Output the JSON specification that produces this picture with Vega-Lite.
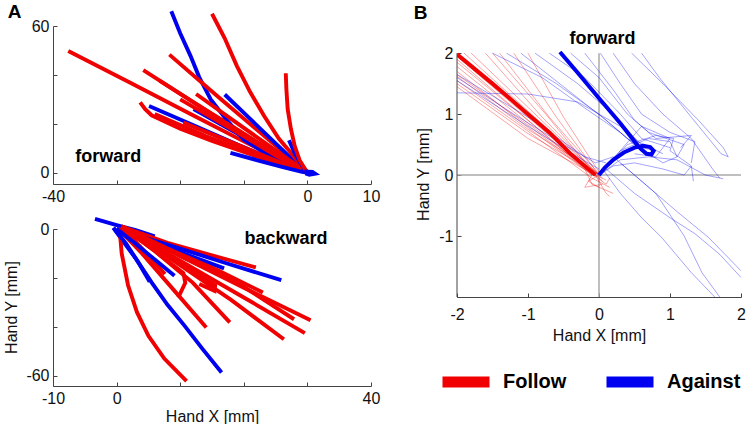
{
  "$schema": "https://vega.github.io/schema/vega-lite/v6.json",
  "background": "white",
  "padding": {"left": 3, "top": 3, "right": 0, "bottom": 0},
  "config": {
    "view": {"stroke": null},
    "font": "Liberation Sans",
    "axis": {
      "grid": false,
      "domainColor": "#444",
      "tickColor": "#444",
      "tickSize": -4,
      "labelPadding": 8,
      "labelFlush": false,
      "labelFontSize": 16,
      "labelColor": "#111",
      "titleFontSize": 16,
      "titleFontWeight": "normal",
      "titleColor": "#111",
      "titlePadding": 6,
      "labelExpr": "'' + datum.value"
    }
  },
  "datasets": {
    "fw": [
      {"id":"fR1","c":"Follow","o":1,"x":-37.6,"y":49.8},{"id":"fR1","c":"Follow","o":2,"x":-28,"y":37},{"id":"fR1","c":"Follow","o":3,"x":-18,"y":23.5},{"id":"fR1","c":"Follow","o":4,"x":-9,"y":11.5},{"id":"fR1","c":"Follow","o":5,"x":-3,"y":3.5},{"id":"fR1","c":"Follow","o":6,"x":0,"y":0},
      {"id":"fB3","c":"Against","o":1,"x":-24.9,"y":27.3},{"id":"fB3","c":"Against","o":2,"x":-18,"y":19.5},{"id":"fB3","c":"Against","o":3,"x":-11,"y":11.5},{"id":"fB3","c":"Against","o":4,"x":-5,"y":5},{"id":"fB3","c":"Against","o":5,"x":0,"y":0},
      {"id":"fR2","c":"Follow","o":1,"x":-25.8,"y":42},{"id":"fR2","c":"Follow","o":2,"x":-18,"y":29},{"id":"fR2","c":"Follow","o":3,"x":-10,"y":16},{"id":"fR2","c":"Follow","o":4,"x":-4,"y":6},{"id":"fR2","c":"Follow","o":5,"x":0,"y":0},
      {"id":"fR7","c":"Follow","o":1,"x":-26.3,"y":28.8},{"id":"fR7","c":"Follow","o":2,"x":-25.5,"y":26},{"id":"fR7","c":"Follow","o":3,"x":-24.5,"y":23.5},{"id":"fR7","c":"Follow","o":4,"x":-20,"y":18},{"id":"fR7","c":"Follow","o":5,"x":-15,"y":13},{"id":"fR7","c":"Follow","o":6,"x":-10,"y":8.5},{"id":"fR7","c":"Follow","o":7,"x":-5,"y":4},{"id":"fR7","c":"Follow","o":8,"x":0,"y":0},
      {"id":"fB1","c":"Against","o":1,"x":-21.4,"y":66},{"id":"fB1","c":"Against","o":2,"x":-20,"y":57},{"id":"fB1","c":"Against","o":3,"x":-18.4,"y":47.9},{"id":"fB1","c":"Against","o":4,"x":-17,"y":39},{"id":"fB1","c":"Against","o":5,"x":-15.2,"y":30},{"id":"fB1","c":"Against","o":6,"x":-12.5,"y":21},{"id":"fB1","c":"Against","o":7,"x":-10,"y":13.6},{"id":"fB1","c":"Against","o":8,"x":-6,"y":7},{"id":"fB1","c":"Against","o":9,"x":-3.1,"y":3.3},{"id":"fB1","c":"Against","o":10,"x":0,"y":0},
      {"id":"fR3","c":"Follow","o":1,"x":-21.7,"y":48.3},{"id":"fR3","c":"Follow","o":2,"x":-14,"y":31},{"id":"fR3","c":"Follow","o":3,"x":-7,"y":15.5},{"id":"fR3","c":"Follow","o":4,"x":-2,"y":4.5},{"id":"fR3","c":"Follow","o":5,"x":0,"y":0},
      {"id":"fB6","c":"Against","o":1,"x":-17.9,"y":26},{"id":"fB6","c":"Against","o":2,"x":-11,"y":16},{"id":"fB6","c":"Against","o":3,"x":-5,"y":7},{"id":"fB6","c":"Against","o":4,"x":0,"y":0},
      {"id":"fR8","c":"Follow","o":1,"x":-23.2,"y":37.6},{"id":"fR8","c":"Follow","o":2,"x":-15,"y":24},{"id":"fR8","c":"Follow","o":3,"x":-7,"y":11},{"id":"fR8","c":"Follow","o":4,"x":0,"y":0},
      {"id":"fR9","c":"Follow","o":1,"x":-20,"y":30},{"id":"fR9","c":"Follow","o":2,"x":-12,"y":18},{"id":"fR9","c":"Follow","o":3,"x":-5,"y":7},{"id":"fR9","c":"Follow","o":4,"x":0,"y":0},
      {"id":"fR10","c":"Follow","o":1,"x":-24,"y":24},{"id":"fR10","c":"Follow","o":2,"x":-16,"y":15},{"id":"fR10","c":"Follow","o":3,"x":-8,"y":7},{"id":"fR10","c":"Follow","o":4,"x":0,"y":0},
      {"id":"fR11","c":"Follow","o":1,"x":-19.5,"y":20.5},{"id":"fR11","c":"Follow","o":2,"x":-12,"y":12.5},{"id":"fR11","c":"Follow","o":3,"x":-5,"y":5},{"id":"fR11","c":"Follow","o":4,"x":0,"y":0},
      {"id":"fB2","c":"Against","o":1,"x":-13,"y":32},{"id":"fB2","c":"Against","o":2,"x":-9,"y":22},{"id":"fB2","c":"Against","o":3,"x":-5,"y":12},{"id":"fB2","c":"Against","o":4,"x":-2,"y":4.5},{"id":"fB2","c":"Against","o":5,"x":0,"y":0},
      {"id":"fR6","c":"Follow","o":1,"x":-17.5,"y":32.2},{"id":"fR6","c":"Follow","o":2,"x":-12,"y":22},{"id":"fR6","c":"Follow","o":3,"x":-6,"y":11},{"id":"fR6","c":"Follow","o":4,"x":0,"y":0},
      {"id":"fR4","c":"Follow","o":1,"x":-15,"y":65},{"id":"fR4","c":"Follow","o":2,"x":-13,"y":55},{"id":"fR4","c":"Follow","o":3,"x":-11.1,"y":43.7},{"id":"fR4","c":"Follow","o":4,"x":-9,"y":33},{"id":"fR4","c":"Follow","o":5,"x":-6.8,"y":23.2},{"id":"fR4","c":"Follow","o":6,"x":-4.5,"y":14},{"id":"fR4","c":"Follow","o":7,"x":-2.6,"y":8.2},{"id":"fR4","c":"Follow","o":8,"x":-1,"y":3},{"id":"fR4","c":"Follow","o":9,"x":0,"y":0},
      {"id":"fB4","c":"Against","o":1,"x":-12.1,"y":8.1},{"id":"fB4","c":"Against","o":2,"x":-8,"y":5.2},{"id":"fB4","c":"Against","o":3,"x":-4,"y":2.4},{"id":"fB4","c":"Against","o":4,"x":-1,"y":0.5},{"id":"fB4","c":"Against","o":5,"x":0,"y":0},
      {"id":"fB5","c":"Against","o":1,"x":-2.9,"y":13.3},{"id":"fB5","c":"Against","o":2,"x":-2,"y":8},{"id":"fB5","c":"Against","o":3,"x":-1,"y":3.5},{"id":"fB5","c":"Against","o":4,"x":0,"y":0},
      {"id":"fR5","c":"Follow","o":1,"x":-3.4,"y":40.7},{"id":"fR5","c":"Follow","o":2,"x":-3.3,"y":34},{"id":"fR5","c":"Follow","o":3,"x":-3.1,"y":26},{"id":"fR5","c":"Follow","o":4,"x":-2.6,"y":18},{"id":"fR5","c":"Follow","o":5,"x":-2,"y":11},{"id":"fR5","c":"Follow","o":6,"x":-1.2,"y":5},{"id":"fR5","c":"Follow","o":7,"x":0,"y":0},
      {"id":"fB7","c":"Against","o":1,"x":-0.5,"y":0.5},{"id":"fB7","c":"Against","o":2,"x":0.8,"y":0.3},{"id":"fB7","c":"Against","o":3,"x":1.2,"y":-0.4},{"id":"fB7","c":"Against","o":4,"x":0.3,"y":-0.8},{"id":"fB7","c":"Against","o":5,"x":-0.3,"y":-0.3}
    ],
    "bw": [
      {"id":"bB1","c":"Against","o":1,"x":-3.4,"y":4.1},{"id":"bB1","c":"Against","o":2,"x":0,"y":1.6},{"id":"bB1","c":"Against","o":3,"x":3,"y":-0.5},{"id":"bB1","c":"Against","o":4,"x":6,"y":-3},
      {"id":"bR1","c":"Follow","o":1,"x":0.8,"y":1},{"id":"bR1","c":"Follow","o":2,"x":8,"y":-5.7},{"id":"bR1","c":"Follow","o":3,"x":15,"y":-10.8},{"id":"bR1","c":"Follow","o":4,"x":21.9,"y":-15.7},
      {"id":"bB2","c":"Against","o":1,"x":0,"y":0},{"id":"bB2","c":"Against","o":2,"x":9,"y":-7.2},{"id":"bB2","c":"Against","o":3,"x":17,"y":-13.8},{"id":"bB2","c":"Against","o":4,"x":25.9,"y":-20.9},
      {"id":"bB3","c":"Against","o":1,"x":0,"y":0},{"id":"bB3","c":"Against","o":2,"x":6,"y":-5.7},{"id":"bB3","c":"Against","o":3,"x":12,"y":-11.4},{"id":"bB3","c":"Against","o":4,"x":16.9,"y":-16.1},
      {"id":"bR2","c":"Follow","o":1,"x":0.8,"y":1},{"id":"bR2","c":"Follow","o":2,"x":10,"y":-11},{"id":"bR2","c":"Follow","o":3,"x":20,"y":-24},{"id":"bR2","c":"Follow","o":4,"x":30.5,"y":-37.3},
      {"id":"bR3","c":"Follow","o":1,"x":0.8,"y":1},{"id":"bR3","c":"Follow","o":2,"x":10,"y":-13},{"id":"bR3","c":"Follow","o":3,"x":20,"y":-28},{"id":"bR3","c":"Follow","o":4,"x":29.6,"y":-42.6},
      {"id":"bR4","c":"Follow","o":1,"x":0.8,"y":1},{"id":"bR4","c":"Follow","o":2,"x":9,"y":-13},{"id":"bR4","c":"Follow","o":3,"x":18,"y":-29},{"id":"bR4","c":"Follow","o":4,"x":26.3,"y":-45.1},
      {"id":"bR5","c":"Follow","o":1,"x":0.8,"y":1},{"id":"bR5","c":"Follow","o":2,"x":10,"y":-11},{"id":"bR5","c":"Follow","o":3,"x":19,"y":-22},{"id":"bR5","c":"Follow","o":4,"x":27.9,"y":-36.9},
      {"id":"bR6","c":"Follow","o":1,"x":0.8,"y":1},{"id":"bR6","c":"Follow","o":2,"x":8,"y":-8},{"id":"bR6","c":"Follow","o":3,"x":16,"y":-17},{"id":"bR6","c":"Follow","o":4,"x":23,"y":-26},
      {"id":"bB4","c":"Against","o":1,"x":-0.5,"y":0.5},{"id":"bB4","c":"Against","o":2,"x":1,"y":-5},{"id":"bB4","c":"Against","o":3,"x":3,"y":-12},{"id":"bB4","c":"Against","o":4,"x":5.5,"y":-21.8},{"id":"bB4","c":"Against","o":5,"x":8,"y":-31},{"id":"bB4","c":"Against","o":6,"x":10.7,"y":-39.6},{"id":"bB4","c":"Against","o":7,"x":13.5,"y":-49},{"id":"bB4","c":"Against","o":8,"x":16.5,"y":-58.7},
      {"id":"bR7","c":"Follow","o":1,"x":0.8,"y":1},{"id":"bR7","c":"Follow","o":2,"x":6,"y":-9},{"id":"bR7","c":"Follow","o":3,"x":12,"y":-22},{"id":"bR7","c":"Follow","o":4,"x":17.8,"y":-38.2},
      {"id":"bR8","c":"Follow","o":1,"x":0.3,"y":0},{"id":"bR8","c":"Follow","o":2,"x":4,"y":-10},{"id":"bR8","c":"Follow","o":3,"x":9,"y":-25},{"id":"bR8","c":"Follow","o":4,"x":14.1,"y":-40.3},
      {"id":"bR9","c":"Follow","o":1,"x":0.5,"y":-1},{"id":"bR9","c":"Follow","o":2,"x":0.8,"y":-10},{"id":"bR9","c":"Follow","o":3,"x":1.8,"y":-23},{"id":"bR9","c":"Follow","o":4,"x":3.2,"y":-34},{"id":"bR9","c":"Follow","o":5,"x":5,"y":-43.7},{"id":"bR9","c":"Follow","o":6,"x":7.5,"y":-53},{"id":"bR9","c":"Follow","o":7,"x":11,"y":-62.2},
      {"id":"bR10","c":"Follow","o":1,"x":0.8,"y":1},{"id":"bR10","c":"Follow","o":2,"x":6,"y":-9},{"id":"bR10","c":"Follow","o":3,"x":10.5,"y":-18},{"id":"bR10","c":"Follow","o":4,"x":10.8,"y":-22},{"id":"bR10","c":"Follow","o":5,"x":9.7,"y":-28},
      {"id":"bR11","c":"Follow","o":1,"x":0.8,"y":1},{"id":"bR11","c":"Follow","o":2,"x":8,"y":-11},{"id":"bR11","c":"Follow","o":3,"x":13,"y":-19},{"id":"bR11","c":"Follow","o":4,"x":15.5,"y":-23},{"id":"bR11","c":"Follow","o":5,"x":15.4,"y":-25.3},{"id":"bR11","c":"Follow","o":6,"x":13,"y":-22.5},
      {"id":"bR12","c":"Follow","o":1,"x":0.8,"y":1},{"id":"bR12","c":"Follow","o":2,"x":4,"y":-8},{"id":"bR12","c":"Follow","o":3,"x":7.6,"y":-18.4},
      {"id":"bB5","c":"Against","o":1,"x":-0.5,"y":0.5},{"id":"bB5","c":"Against","o":2,"x":1.5,"y":-6},{"id":"bB5","c":"Against","o":3,"x":3.5,"y":-14},{"id":"bB5","c":"Against","o":4,"x":5.2,"y":-21.6},
      {"id":"bB6","c":"Against","o":1,"x":0,"y":0},{"id":"bB6","c":"Against","o":2,"x":3,"y":-6},{"id":"bB6","c":"Against","o":3,"x":6,"y":-12.5},{"id":"bB6","c":"Against","o":4,"x":9.1,"y":-19.1}
    ],
    "thin": [
      {"id":"r1","c":"Follow","o":1,"x":-2,"y":1.95},{"id":"r1","c":"Follow","o":2,"x":-1,"y":0.95},{"id":"r1","c":"Follow","o":3,"x":-0.1,"y":0.05},{"id":"r1","c":"Follow","o":4,"x":0.05,"y":-0.1},
      {"id":"r2","c":"Follow","o":1,"x":-2,"y":1.85},{"id":"r2","c":"Follow","o":2,"x":-1,"y":0.9},{"id":"r2","c":"Follow","o":3,"x":-0.1,"y":0.02},{"id":"r2","c":"Follow","o":4,"x":0.1,"y":-0.15},{"id":"r2","c":"Follow","o":5,"x":0.15,"y":-0.05},
      {"id":"r3","c":"Follow","o":1,"x":-2,"y":1.78},{"id":"r3","c":"Follow","o":2,"x":-1,"y":0.85},{"id":"r3","c":"Follow","o":3,"x":-0.05,"y":0},
      {"id":"r4","c":"Follow","o":1,"x":-2,"y":1.7},{"id":"r4","c":"Follow","o":2,"x":-1,"y":0.78},{"id":"r4","c":"Follow","o":3,"x":-0.1,"y":0},{"id":"r4","c":"Follow","o":4,"x":-0.2,"y":-0.2},{"id":"r4","c":"Follow","o":5,"x":0.05,"y":-0.15},
      {"id":"r5","c":"Follow","o":1,"x":-2,"y":1.62},{"id":"r5","c":"Follow","o":2,"x":-1,"y":0.75},{"id":"r5","c":"Follow","o":3,"x":0,"y":0.02},
      {"id":"r6","c":"Follow","o":1,"x":-2,"y":1.55},{"id":"r6","c":"Follow","o":2,"x":-1,"y":0.72},{"id":"r6","c":"Follow","o":3,"x":-0.1,"y":-0.05},{"id":"r6","c":"Follow","o":4,"x":0.15,"y":-0.2},
      {"id":"r7","c":"Follow","o":1,"x":-2,"y":1.5},{"id":"r7","c":"Follow","o":2,"x":-1,"y":0.68},{"id":"r7","c":"Follow","o":3,"x":0,"y":0},
      {"id":"r8","c":"Follow","o":1,"x":-2,"y":1.45},{"id":"r8","c":"Follow","o":2,"x":-1,"y":0.6},{"id":"r8","c":"Follow","o":3,"x":-0.05,"y":0},{"id":"r8","c":"Follow","o":4,"x":0.1,"y":-0.08},
      {"id":"r9","c":"Follow","o":1,"x":-1.9,"y":2},{"id":"r9","c":"Follow","o":2,"x":-1,"y":1.05},{"id":"r9","c":"Follow","o":3,"x":0,"y":0},
      {"id":"r10","c":"Follow","o":1,"x":-1.8,"y":2},{"id":"r10","c":"Follow","o":2,"x":-0.9,"y":1},{"id":"r10","c":"Follow","o":3,"x":-0.05,"y":0.05},{"id":"r10","c":"Follow","o":4,"x":0.05,"y":-0.05},
      {"id":"r11","c":"Follow","o":1,"x":-1.6,"y":2},{"id":"r11","c":"Follow","o":2,"x":-0.8,"y":0.95},{"id":"r11","c":"Follow","o":3,"x":0,"y":0},
      {"id":"r12","c":"Follow","o":1,"x":-1.4,"y":2},{"id":"r12","c":"Follow","o":2,"x":-0.7,"y":0.95},{"id":"r12","c":"Follow","o":3,"x":0,"y":0.02},
      {"id":"r13","c":"Follow","o":1,"x":-1.2,"y":2},{"id":"r13","c":"Follow","o":2,"x":-0.6,"y":0.95},{"id":"r13","c":"Follow","o":3,"x":0,"y":0},{"id":"r13","c":"Follow","o":4,"x":-0.15,"y":-0.1},{"id":"r13","c":"Follow","o":5,"x":0,"y":-0.2},
      {"id":"r14","c":"Follow","o":1,"x":-1,"y":2},{"id":"r14","c":"Follow","o":2,"x":-0.5,"y":0.95},{"id":"r14","c":"Follow","o":3,"x":0,"y":0.05},
      {"id":"r15","c":"Follow","o":1,"x":-1.5,"y":2},{"id":"r15","c":"Follow","o":2,"x":-0.75,"y":1},{"id":"r15","c":"Follow","o":3,"x":-0.05,"y":0},{"id":"r15","c":"Follow","o":4,"x":0.1,"y":-0.3},{"id":"r15","c":"Follow","o":5,"x":0.15,"y":-0.35},
      {"id":"r16","c":"Follow","o":1,"x":-2,"y":1.9},{"id":"r16","c":"Follow","o":2,"x":-1.05,"y":0.95},{"id":"r16","c":"Follow","o":3,"x":-0.1,"y":0},
      {"id":"r17","c":"Follow","o":1,"x":-2,"y":1.65},{"id":"r17","c":"Follow","o":2,"x":-1,"y":0.82},{"id":"r17","c":"Follow","o":3,"x":-0.2,"y":0.1},{"id":"r17","c":"Follow","o":4,"x":-0.1,"y":-0.15},{"id":"r17","c":"Follow","o":5,"x":0.2,"y":-0.3},
      {"id":"b1","c":"Against","o":1,"x":-1.3,"y":2},{"id":"b1","c":"Against","o":2,"x":-0.6,"y":1.5},{"id":"b1","c":"Against","o":3,"x":0,"y":1},{"id":"b1","c":"Against","o":4,"x":0.4,"y":0.6},{"id":"b1","c":"Against","o":5,"x":0.6,"y":0.45},{"id":"b1","c":"Against","o":6,"x":0.8,"y":0.4},
      {"id":"b2","c":"Against","o":1,"x":-1.1,"y":2},{"id":"b2","c":"Against","o":2,"x":-0.5,"y":1.45},{"id":"b2","c":"Against","o":3,"x":0.1,"y":0.9},{"id":"b2","c":"Against","o":4,"x":0.5,"y":0.5},{"id":"b2","c":"Against","o":5,"x":0.75,"y":0.3},
      {"id":"b3","c":"Against","o":1,"x":-0.9,"y":2},{"id":"b3","c":"Against","o":2,"x":-0.3,"y":1.5},{"id":"b3","c":"Against","o":3,"x":0.2,"y":1},{"id":"b3","c":"Against","o":4,"x":0.55,"y":0.55},{"id":"b3","c":"Against","o":5,"x":0.9,"y":0.35},
      {"id":"b4","c":"Against","o":1,"x":-0.7,"y":2},{"id":"b4","c":"Against","o":2,"x":-0.2,"y":1.6},{"id":"b4","c":"Against","o":3,"x":0.3,"y":1},{"id":"b4","c":"Against","o":4,"x":0.6,"y":0.6},{"id":"b4","c":"Against","o":5,"x":1,"y":0.45},
      {"id":"b5","c":"Against","o":1,"x":-2,"y":1.35},{"id":"b5","c":"Against","o":2,"x":-1,"y":1.33},{"id":"b5","c":"Against","o":3,"x":-0.3,"y":1.2},{"id":"b5","c":"Against","o":4,"x":0.3,"y":0.8},{"id":"b5","c":"Against","o":5,"x":0.6,"y":0.5},
      {"id":"b6","c":"Against","o":1,"x":-2,"y":1.6},{"id":"b6","c":"Against","o":2,"x":-1.2,"y":1},{"id":"b6","c":"Against","o":3,"x":-0.5,"y":0.5},{"id":"b6","c":"Against","o":4,"x":-0.05,"y":0.2},{"id":"b6","c":"Against","o":5,"x":0.2,"y":0.3},
      {"id":"b7","c":"Against","o":1,"x":-2,"y":1.65},{"id":"b7","c":"Against","o":2,"x":-1,"y":0.95},{"id":"b7","c":"Against","o":3,"x":-0.2,"y":0.3},{"id":"b7","c":"Against","o":4,"x":0.1,"y":0.2},
      {"id":"b8","c":"Against","o":1,"x":-0.4,"y":2},{"id":"b8","c":"Against","o":2,"x":0,"y":1.6},{"id":"b8","c":"Against","o":3,"x":0.4,"y":1},{"id":"b8","c":"Against","o":4,"x":0.7,"y":0.7},{"id":"b8","c":"Against","o":5,"x":1.2,"y":0.5},{"id":"b8","c":"Against","o":6,"x":1.1,"y":0.3},
      {"id":"b9","c":"Against","o":1,"x":-0.2,"y":2},{"id":"b9","c":"Against","o":2,"x":0.2,"y":1.4},{"id":"b9","c":"Against","o":3,"x":0.5,"y":0.9},{"id":"b9","c":"Against","o":4,"x":0.8,"y":0.6},{"id":"b9","c":"Against","o":5,"x":1.3,"y":0.65},{"id":"b9","c":"Against","o":6,"x":1.15,"y":0.45},
      {"id":"b10","c":"Against","o":1,"x":0.02,"y":2},{"id":"b10","c":"Against","o":2,"x":0.3,"y":1.5},{"id":"b10","c":"Against","o":3,"x":0.6,"y":1},{"id":"b10","c":"Against","o":4,"x":1,"y":0.7},{"id":"b10","c":"Against","o":5,"x":1.35,"y":0.55},{"id":"b10","c":"Against","o":6,"x":1.3,"y":0.2},
      {"id":"b11","c":"Against","o":1,"x":0.2,"y":2},{"id":"b11","c":"Against","o":2,"x":0.5,"y":1.5},{"id":"b11","c":"Against","o":3,"x":0.9,"y":1},{"id":"b11","c":"Against","o":4,"x":1.3,"y":0.6},{"id":"b11","c":"Against","o":5,"x":1.6,"y":0.1},{"id":"b11","c":"Against","o":6,"x":1.7,"y":-0.05},
      {"id":"b12","c":"Against","o":1,"x":0.46,"y":2},{"id":"b12","c":"Against","o":2,"x":0.9,"y":1.5},{"id":"b12","c":"Against","o":3,"x":1.4,"y":0.9},{"id":"b12","c":"Against","o":4,"x":1.75,"y":0.45},{"id":"b12","c":"Against","o":5,"x":1.82,"y":0.3},{"id":"b12","c":"Against","o":6,"x":1.72,"y":0.35},{"id":"b12","c":"Against","o":7,"x":1.3,"y":0.95},{"id":"b12","c":"Against","o":8,"x":0.85,"y":1.6},{"id":"b12","c":"Against","o":9,"x":0.6,"y":2},
      {"id":"b13","c":"Against","o":1,"x":0,"y":0},{"id":"b13","c":"Against","o":2,"x":0.3,"y":0.4},{"id":"b13","c":"Against","o":3,"x":0.7,"y":0.6},{"id":"b13","c":"Against","o":4,"x":1,"y":0.55},{"id":"b13","c":"Against","o":5,"x":1.1,"y":0.3},{"id":"b13","c":"Against","o":6,"x":0.9,"y":0.2},{"id":"b13","c":"Against","o":7,"x":0.7,"y":0.35},
      {"id":"b14","c":"Against","o":1,"x":0,"y":0},{"id":"b14","c":"Against","o":2,"x":0.4,"y":0.5},{"id":"b14","c":"Against","o":3,"x":0.8,"y":0.65},{"id":"b14","c":"Against","o":4,"x":1.05,"y":0.6},{"id":"b14","c":"Against","o":5,"x":1,"y":0.4},{"id":"b14","c":"Against","o":6,"x":1.3,"y":0.15},{"id":"b14","c":"Against","o":7,"x":1.33,"y":-0.1},
      {"id":"b15","c":"Against","o":1,"x":0,"y":0},{"id":"b15","c":"Against","o":2,"x":0.3,"y":0.25},{"id":"b15","c":"Against","o":3,"x":0.7,"y":0.3},{"id":"b15","c":"Against","o":4,"x":1.1,"y":0.25},{"id":"b15","c":"Against","o":5,"x":1.5,"y":0},{"id":"b15","c":"Against","o":6,"x":1.75,"y":-0.06},
      {"id":"b16","c":"Against","o":1,"x":0.05,"y":0.1},{"id":"b16","c":"Against","o":2,"x":0.3,"y":-0.3},{"id":"b16","c":"Against","o":3,"x":0.6,"y":-0.7},{"id":"b16","c":"Against","o":4,"x":0.88,"y":-1.02},{"id":"b16","c":"Against","o":5,"x":1.3,"y":-1.6},{"id":"b16","c":"Against","o":6,"x":1.63,"y":-2},
      {"id":"b17","c":"Against","o":1,"x":0.1,"y":0.1},{"id":"b17","c":"Against","o":2,"x":0.5,"y":-0.3},{"id":"b17","c":"Against","o":3,"x":1,"y":-0.7},{"id":"b17","c":"Against","o":4,"x":1.35,"y":-0.96},{"id":"b17","c":"Against","o":5,"x":1.7,"y":-1.3},{"id":"b17","c":"Against","o":6,"x":2,"y":-1.68},
      {"id":"b18","c":"Against","o":1,"x":0.2,"y":0.3},{"id":"b18","c":"Against","o":2,"x":0.7,"y":-0.2},{"id":"b18","c":"Against","o":3,"x":1.1,"y":-0.6},{"id":"b18","c":"Against","o":4,"x":1.54,"y":-1.02},{"id":"b18","c":"Against","o":5,"x":2,"y":-1.57},
      {"id":"b19","c":"Against","o":1,"x":0.3,"y":0.2},{"id":"b19","c":"Against","o":2,"x":0.8,"y":-0.3},{"id":"b19","c":"Against","o":3,"x":1.2,"y":-1},{"id":"b19","c":"Against","o":4,"x":1.45,"y":-1.6},{"id":"b19","c":"Against","o":5,"x":1.7,"y":-2},
      {"id":"b20","c":"Against","o":1,"x":0,"y":0},{"id":"b20","c":"Against","o":2,"x":0.3,"y":0.4},{"id":"b20","c":"Against","o":3,"x":0.6,"y":0.8},{"id":"b20","c":"Against","o":4,"x":1,"y":0.6},{"id":"b20","c":"Against","o":5,"x":0.8,"y":0.3},{"id":"b20","c":"Against","o":6,"x":0.5,"y":0.35},
      {"id":"b21","c":"Against","o":1,"x":-1.5,"y":2},{"id":"b21","c":"Against","o":2,"x":-0.8,"y":1.6},{"id":"b21","c":"Against","o":3,"x":-0.2,"y":1.1},{"id":"b21","c":"Against","o":4,"x":0.3,"y":0.7},{"id":"b21","c":"Against","o":5,"x":0.5,"y":0.5},
      {"id":"b22","c":"Against","o":1,"x":-2,"y":1.55},{"id":"b22","c":"Against","o":2,"x":-1,"y":0.8},{"id":"b22","c":"Against","o":3,"x":-0.3,"y":0.3},{"id":"b22","c":"Against","o":4,"x":0,"y":0.1},
      {"id":"b23","c":"Against","o":1,"x":0,"y":0},{"id":"b23","c":"Against","o":2,"x":0.2,"y":0.15},{"id":"b23","c":"Against","o":3,"x":0.5,"y":0.2},{"id":"b23","c":"Against","o":4,"x":0.9,"y":0.1},{"id":"b23","c":"Against","o":5,"x":1.2,"y":0},{"id":"b23","c":"Against","o":6,"x":1.3,"y":0.15}
    ],
    "thick": [
      {"id":"mR","c":"Follow","o":1,"x":-2,"y":1.98},{"id":"mR","c":"Follow","o":2,"x":-1.5,"y":1.5},{"id":"mR","c":"Follow","o":3,"x":-1.02,"y":1.02},{"id":"mR","c":"Follow","o":4,"x":-0.7,"y":0.7},{"id":"mR","c":"Follow","o":5,"x":-0.41,"y":0.36},{"id":"mR","c":"Follow","o":6,"x":-0.2,"y":0.15},{"id":"mR","c":"Follow","o":7,"x":-0.05,"y":0},
      {"id":"mB","c":"Against","o":1,"x":0,"y":0},{"id":"mB","c":"Against","o":2,"x":0.08,"y":0.12},{"id":"mB","c":"Against","o":3,"x":0.2,"y":0.25},{"id":"mB","c":"Against","o":4,"x":0.35,"y":0.37},{"id":"mB","c":"Against","o":5,"x":0.5,"y":0.45},{"id":"mB","c":"Against","o":6,"x":0.62,"y":0.48},{"id":"mB","c":"Against","o":7,"x":0.72,"y":0.46},{"id":"mB","c":"Against","o":8,"x":0.77,"y":0.4},{"id":"mB","c":"Against","o":9,"x":0.74,"y":0.34},{"id":"mB","c":"Against","o":10,"x":0.67,"y":0.35},{"id":"mB","c":"Against","o":11,"x":0.6,"y":0.42},{"id":"mB","c":"Against","o":12,"x":0.55,"y":0.48},{"id":"mB","c":"Against","o":13,"x":0.3,"y":0.85},{"id":"mB","c":"Against","o":14,"x":0,"y":1.26},{"id":"mB","c":"Against","o":15,"x":-0.3,"y":1.68},{"id":"mB","c":"Against","o":16,"x":-0.55,"y":2.02}
    ]
  },
  "bounds": "full",
  "spacing": 33,
  "resolve": {"scale": {"color": "independent"}},
  "hconcat": [
    {
      "bounds": "flush",
      "spacing": 45,
      "resolve": {"scale": {"color": "independent"}},
      "vconcat": [
        {
          "width": 318,
          "height": 158,
          "layer": [
            {
              "data": {"name": "fw"},
              "mark": {"type": "line", "strokeWidth": 3.9, "clip": false},
              "encoding": {
                "x": {"field": "x", "type": "quantitative", "scale": {"domain": [-40, 10], "nice": false, "zero": false},
                      "axis": {"title": null, "values": [-40, -30, -20, -10, 0, 10], "labelExpr": "datum.value == -40 || datum.value == 0 || datum.value == 10 ? '' + datum.value : ''"}},
                "y": {"field": "y", "type": "quantitative", "scale": {"domain": [-4.6, 60], "nice": false, "zero": false},
                      "axis": {"title": null, "values": [0, 20, 40, 60], "labelExpr": "datum.value == 0 || datum.value == 60 ? '' + datum.value : ''"}},
                "color": {"field": "c", "type": "nominal", "scale": {"domain": ["Follow", "Against"], "range": ["#f00000", "#0000f0"]}, "legend": null},
                "detail": {"field": "id"},
                "order": {"field": "o", "type": "quantitative"}
              }
            },
            {
              "data": {"values": [{}]},
              "mark": {"type": "text", "text": "forward", "fontSize": 18, "fontWeight": "bold", "align": "left", "baseline": "alphabetic", "color": "black"},
              "encoding": {"x": {"datum": -36.5}, "y": {"datum": 4.5}}
            },
            {
              "data": {"values": [{}]},
              "mark": {"type": "text", "text": "A", "fontSize": 19, "fontWeight": "bold", "align": "left", "baseline": "alphabetic", "color": "black"},
              "encoding": {"x": {"datum": -47.1}, "y": {"datum": 63.2}}
            }
          ]
        },
        {
          "width": 318,
          "height": 157,
          "layer": [
            {
              "data": {"name": "bw"},
              "mark": {"type": "line", "strokeWidth": 3.9, "clip": false},
              "encoding": {
                "x": {"field": "x", "type": "quantitative", "scale": {"domain": [-10, 40], "nice": false, "zero": false},
                      "axis": {"title": "Hand X [mm]", "titlePadding": 2, "values": [-10, 0, 10, 20, 30, 40], "labelExpr": "datum.value == -10 || datum.value == 0 || datum.value == 40 ? '' + datum.value : ''"}},
                "y": {"field": "y", "type": "quantitative", "scale": {"domain": [-64.2, 0], "nice": false, "zero": false},
                      "axis": {"title": "Hand Y [mm]", "titleY": 78, "values": [-60, -40, -20, 0], "labelExpr": "datum.value == 0 || datum.value == -60 ? '' + datum.value : ''"}},
                "color": {"field": "c", "type": "nominal", "scale": {"domain": ["Follow", "Against"], "range": ["#f00000", "#0000f0"]}, "legend": null},
                "detail": {"field": "id"},
                "order": {"field": "o", "type": "quantitative"}
              }
            },
            {
              "data": {"values": [{}]},
              "mark": {"type": "text", "text": "backward", "fontSize": 18, "fontWeight": "bold", "align": "left", "baseline": "alphabetic", "color": "black"},
              "encoding": {"x": {"datum": 20.1}, "y": {"datum": -6.1}}
            }
          ]
        }
      ]
    },
    {
      "width": 284,
      "height": 271,
      "layer": [
        {
          "data": {"values": [{}]},
          "mark": {"type": "rule", "color": "#aaaaaa", "strokeWidth": 1.5},
          "encoding": {"x": {"datum": 0, "type": "quantitative"}, "y": {"datum": -2, "type": "quantitative"}, "y2": {"datum": 2}}
        },
        {
          "data": {"values": [{}]},
          "mark": {"type": "rule", "color": "#aaaaaa", "strokeWidth": 1.5},
          "encoding": {"y": {"datum": 0, "type": "quantitative"}}
        },
        {
          "data": {"values": [{}]},
          "mark": {"type": "rule", "color": "#444", "strokeWidth": 1},
          "encoding": {"x": {"datum": -2, "type": "quantitative"}, "y": {"datum": -2, "type": "quantitative"}, "y2": {"datum": 2}}
        },
        {
          "data": {"name": "thin"},
          "mark": {"type": "line", "strokeWidth": 0.9, "opacity": 0.4, "clip": true},
          "encoding": {
            "x": {"field": "x", "type": "quantitative", "scale": {"domain": [-2, 2], "nice": false, "zero": false},
                  "axis": {"title": "Hand X [mm]", "values": [-2, -1, 0, 1, 2], "labelPadding": 13, "titlePadding": 5}},
            "y": {"field": "y", "type": "quantitative", "scale": {"domain": [-2, 2.446], "nice": false, "zero": false},
                  "axis": {"title": "Hand Y [mm]", "domain": false, "titleY": 148, "values": [-2, -1, 0, 1, 2], "labelExpr": "datum.value == -2 ? '' : '' + datum.value", "titlePadding": 7}},
            "stroke": {"field": "c", "type": "nominal", "scale": {"domain": ["Follow", "Against"], "range": ["#f00000", "#0000f0"]}, "legend": null},
            "detail": {"field": "id"},
            "order": {"field": "o", "type": "quantitative"}
          }
        },
        {
          "data": {"name": "thick"},
          "mark": {"type": "line", "strokeWidth": 4, "clip": true},
          "encoding": {
            "x": {"field": "x", "type": "quantitative"},
            "y": {"field": "y", "type": "quantitative"},
            "color": {"field": "c", "type": "nominal", "scale": {"domain": ["Follow", "Against"], "range": ["#f00000", "#0000f0"]},
                      "legend": {"orient": "none", "legendX": -20, "legendY": 327, "direction": "horizontal", "title": null,
                                 "symbolType": "stroke", "symbolSize": 2209, "symbolStrokeWidth": 11, "symbolOpacity": 1,
                                 "labelFontSize": 20, "labelFontWeight": "bold", "labelColor": "black", "labelOffset": 8, "columnPadding": 17}},
            "detail": {"field": "id"},
            "order": {"field": "o", "type": "quantitative"}
          }
        },
        {
          "data": {"values": [{}]},
          "mark": {"type": "text", "text": "forward", "fontSize": 18, "fontWeight": "bold", "align": "center", "baseline": "alphabetic", "color": "black"},
          "encoding": {"x": {"datum": 0.05}, "y": {"datum": 2.15}}
        },
        {
          "data": {"values": [{}]},
          "mark": {"type": "text", "text": "B", "fontSize": 19, "fontWeight": "bold", "align": "left", "baseline": "alphabetic", "color": "black"},
          "encoding": {"x": {"datum": -2.61}, "y": {"datum": 2.56}}
        }
      ]
    }
  ]
}
